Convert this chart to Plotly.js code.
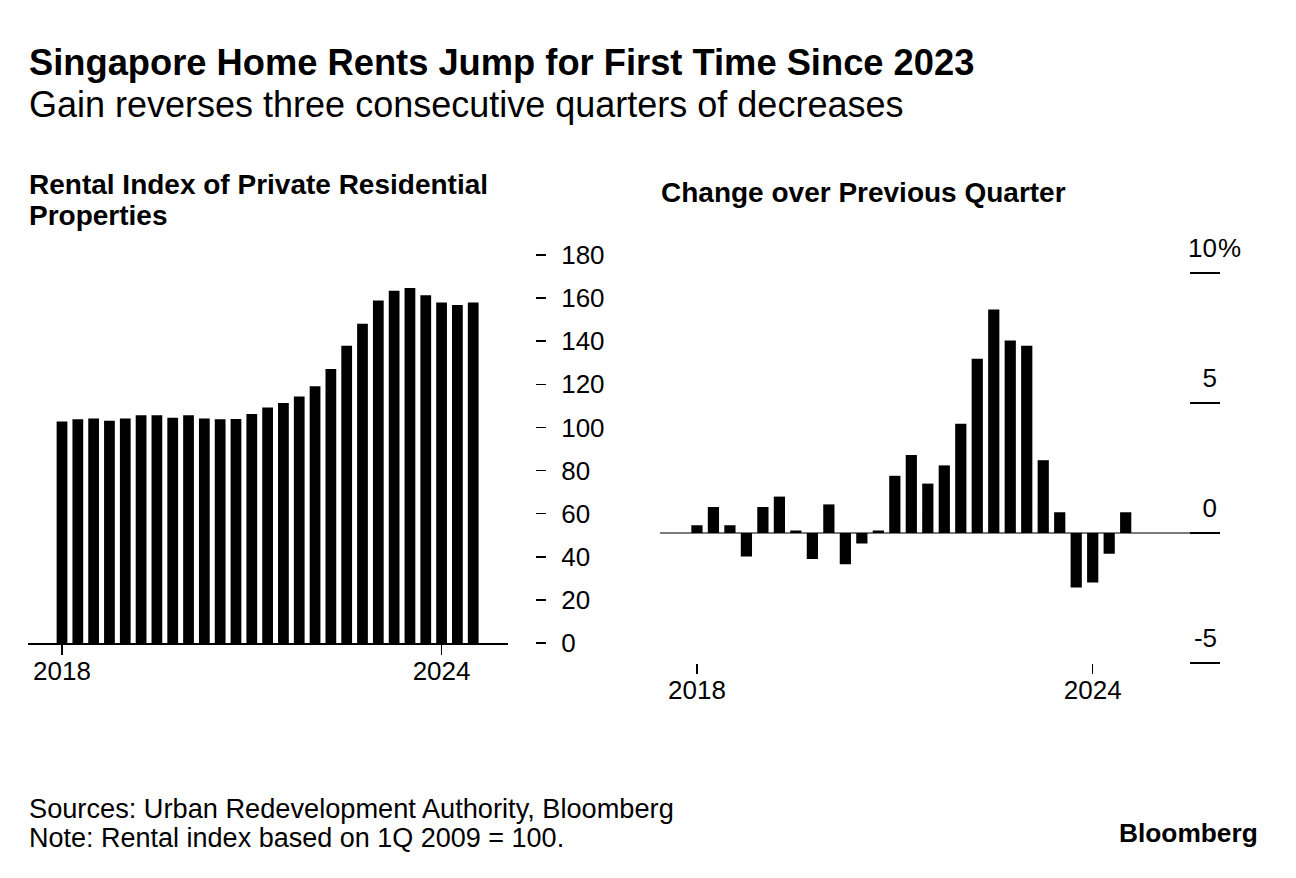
<!DOCTYPE html>
<html><head><meta charset="utf-8">
<script src="https://cdn.plot.ly/plotly-3.0.1.min.js"></script>
<style>html,body{margin:0;padding:0;background:#fff}#chart{width:1296px;height:878px}</style>
</head><body><div id="chart"></div>
<script>
// ---- data ----
const quarters = ['1Q 2018','2Q 2018','3Q 2018','4Q 2018',
  '1Q 2019','2Q 2019','3Q 2019','4Q 2019',
  '1Q 2020','2Q 2020','3Q 2020','4Q 2020',
  '1Q 2021','2Q 2021','3Q 2021','4Q 2021',
  '1Q 2022','2Q 2022','3Q 2022','4Q 2022',
  '1Q 2023','2Q 2023','3Q 2023','4Q 2023',
  '1Q 2024','2Q 2024','3Q 2024'];
const rentalIndex = [102.8,103.8,104.1,103.1,104.1,105.6,105.6,104.5,105.6,104.2,103.8,103.9,
  106.2,109.3,111.3,114.3,119.1,127.1,137.9,148.1,158.9,163.4,164.7,161.3,158.0,156.8,158.0];
const qoqChange = [0.3,1.0,0.3,-0.9,1.0,1.4,0.1,-1.0,1.1,-1.2,-0.4,0.1,
  2.2,3.0,1.9,2.6,4.2,6.7,8.6,7.4,7.2,2.8,0.8,-2.1,-1.9,-0.8,0.8];
const xTickVals = ['1Q 2018','1Q 2024'];
const xTickText = ['2018','2024'];
const leftTickVals = [0,20,40,60,80,100,120,140,160,180];
const rightTickVals = [-5,0,5,10];
const rightTickText = ['-5','0','5','10'];
const rightTopSuffix = '%';

// ---- layout helpers ----
const W = 1296, H = 878;
const px = v => v / W;
const py = v => 1 - v / H;
const FONT = '"Liberation Sans", Arial, Helvetica, sans-serif';
const R_PPU = 26; // right chart pixels per percentage point

const traces = [
  {type:'bar', x:quarters, y:rentalIndex, xaxis:'x', yaxis:'y',
   marker:{color:'#000', line:{width:0}}, hoverinfo:'x+y'},
  {type:'bar', x:quarters, y:qoqChange, xaxis:'x2', yaxis:'y2',
   marker:{color:'#000', line:{width:0}}, hoverinfo:'x+y'}
];

const ann = (text, x, y, size, xanchor) => ({
  text, x:px(x), y:py(y), xref:'paper', yref:'paper', showarrow:false,
  xanchor:xanchor || 'left', yanchor:'middle', align:xanchor==='right'?'right':'left',
  font:{family:FONT, size, color:'#000'}
});

const tickFont = {family:FONT, size:26, color:'#000'};

const layout = {
  width:W, height:H,
  margin:{l:0, r:0, t:0, b:0},
  paper_bgcolor:'#fff', plot_bgcolor:'rgba(0,0,0,0)',
  showlegend:false, bargap:0.32,
  font:{family:FONT, color:'#000', size:26},
  xaxis:{domain:[px(28), px(508)], anchor:'y', type:'category', range:[-2.15, 28.2],
    tickmode:'array', tickvals:xTickVals, ticktext:xTickText, tickfont:tickFont,
    showline:true, linecolor:'#000', linewidth:1.5,
    ticks:'outside', ticklen:10, tickwidth:1.5, tickcolor:'#000', ticklabelstandoff:-6,
    showgrid:false, zeroline:false, fixedrange:true},
  yaxis:{domain:[py(643), py(255)], range:[0, 180], side:'right', anchor:'free', position:px(535),
    tickmode:'array', tickvals:leftTickVals, tickfont:tickFont,
    ticks:'outside', ticklen:10, tickwidth:1.5, tickcolor:'#000', ticklabelstandoff:10,
    showgrid:false, zeroline:false, showline:false, fixedrange:true},
  xaxis2:{domain:[px(660), px(1190)], anchor:'free', position:py(663), type:'category', range:[-2.24, 29.9],
    tickmode:'array', tickvals:xTickVals, ticktext:xTickText, tickfont:tickFont,
    showline:false, ticks:'outside', ticklen:10, tickwidth:1.2, tickcolor:'#000', ticklabelstandoff:-6,
    showgrid:false, zeroline:false, fixedrange:true},
  yaxis2:{domain:[py(663 + 0.4*R_PPU), py(273 - 1.6*R_PPU)], range:[-5.4, 11.6],
    side:'right', anchor:'free', position:px(1220),
    tickmode:'array', tickvals:rightTickVals, ticktext:rightTickText, tickfont:tickFont,
    ticks:'inside', ticklen:30, tickwidth:2, tickcolor:'#000', ticklabelposition:'inside top',
    ticklabelshift:-6,
    showgrid:false, zeroline:true, zerolinecolor:'#7a7a7a', zerolinewidth:1.8,
    showline:false, fixedrange:true},
  annotations:[
    ann('<b>Singapore Home Rents Jump for First Time Since 2023</b>', 27, 62, 36.3),
    ann('Gain reverses three consecutive quarters of decreases', 27, 104, 36),
    ann('<b>Rental Index of Private Residential</b>', 27, 185, 28),
    ann('<b>Properties</b>', 27, 216, 28),
    ann('<b>Change over Previous Quarter</b>', 659, 192, 28),
    ann('Sources: Urban Redevelopment Authority, Bloomberg', 27, 808, 27.2),
    ann('Note: Rental index based on 1Q 2009 = 100.', 27, 838, 27),
    ann('<b>Bloomberg</b>', 1260, 833, 26.3, 'right'),
    {text:rightTopSuffix, xref:'paper', yref:'y2', x:px(1216), y:rightTickVals[3],
     xanchor:'left', yanchor:'middle', yshift:25, showarrow:false,
     font:{family:FONT, size:26, color:'#000'}}
  ]
};

Plotly.newPlot('chart', traces, layout, {displayModeBar:false, staticPlot:true});
</script>
</body></html>
